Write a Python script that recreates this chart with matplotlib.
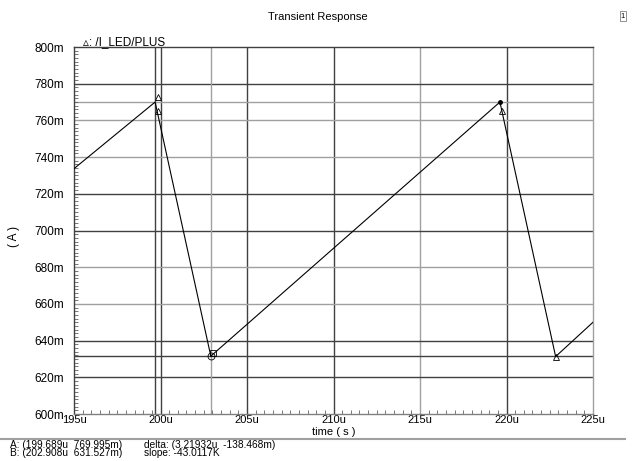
import matplotlib
matplotlib.use("Agg")
import matplotlib.pyplot as plt
from matplotlib.ticker import MultipleLocator, FuncFormatter

plt.rcParams["font.family"] = ["Liberation Sans", "DejaVu Sans"]

# ----------------
# Data (time in us, current in mA)
# ----------------
time_us = [195.0, 199.689, 202.908, 219.62, 222.84, 225.0]
i_led_ma = [733.7, 769.995, 631.527, 770.0, 631.3, 650.0]

# symbol markers drawn along the trace
tri_t = [199.87, 199.86, 219.75, 222.84]
tri_i = [772.8, 765.0, 765.0, 631.3]
dot_t = [219.62]
dot_i = [770.0]

# cursors A and B
cursor_t = [199.689, 202.908]
cursor_i = [769.995, 631.527]

x_grid = [200, 205, 210, 215, 220]
x_grid_col = ["#404040", "#404040", "#404040", "#a0a0a0", "#404040"]
y_grid = [780, 760, 740, 720, 700, 680, 660, 640, 620]
y_grid_col = ["#404040", "#a0a0a0", "#a0a0a0", "#404040", "#404040",
              "#a0a0a0", "#a0a0a0", "#404040", "#404040"]

cursor_text = ["A: (199.689u  769.995m)", "B: (202.908u  631.527m)"]
delta_text = ["delta: (3.21932u  -138.468m)", "slope: -43.0117K"]

# ----------------
# Figure
# ----------------
W, H = 633, 461
fig = plt.figure(figsize=(W / 100, H / 100), dpi=100)
ax = fig.add_axes([74 / W, 1 - 414 / H, (593 - 74) / W, (414 - 47) / H])

ax.set_xlim(195, 225)
ax.set_ylim(600, 800)

for x, c in zip(x_grid, x_grid_col):
    ax.axvline(x, color=c, lw=1, zorder=1)
for y, c in zip(y_grid, y_grid_col):
    ax.axhline(y, color=c, lw=1, zorder=1)

# cursor lines
ax.axvline(cursor_t[0], color="#404040", lw=1, zorder=1)
ax.axhline(cursor_i[0], color="#a0a0a0", lw=1, zorder=1)
ax.axvline(cursor_t[1], color="#a0a0a0", lw=1, zorder=1)
ax.axhline(cursor_i[1], color="#404040", lw=1, zorder=1)

ax.plot(time_us, i_led_ma, color="black", lw=0.8, zorder=3)
ax.plot(tri_t, tri_i, ls="none", marker="^", ms=4, mfc="none", mec="black",
        mew=0.6, zorder=4)
ax.plot(dot_t, dot_i, ls="none", marker="o", ms=2.5, color="black", zorder=4)
ax.plot([cursor_t[1]], [cursor_i[1]], ls="none", marker="o", ms=5, mfc="none",
        mec="black", mew=0.6, zorder=4)
ax.plot([cursor_t[1] + 0.12], [cursor_i[1] + 1.5], ls="none", marker="s", ms=4,
        mfc="none", mec="black", mew=0.6, zorder=4)

# spines
for side, c in [("left", "#404040"), ("top", "#404040"),
                ("right", "#a0a0a0"), ("bottom", "#808080")]:
    ax.spines[side].set_color(c)
    ax.spines[side].set_linewidth(1)

# ticks
ax.xaxis.set_major_locator(MultipleLocator(5))
ax.xaxis.set_minor_locator(MultipleLocator(0.5))
ax.yaxis.set_major_locator(MultipleLocator(20))
ax.yaxis.set_minor_locator(MultipleLocator(2))
ax.xaxis.set_major_formatter(FuncFormatter(lambda v, p: "%du" % round(v)))
ax.yaxis.set_major_formatter(FuncFormatter(lambda v, p: "%dm" % round(v)))
ax.tick_params(which="both", direction="in", color="#606060", width=0.6)
ax.tick_params(which="major", length=0, labelsize=8.5, pad=1)
ax.tick_params(axis="x", which="major", labelsize=8)
ax.tick_params(which="minor", length=3)
ax.tick_params(axis="y", which="major", pad=7)

ax.set_xlabel("time ( s )", fontsize=8)
ax.set_ylabel("( A )", fontsize=8.5)
ax.xaxis.set_label_coords((334 - 74) / 519, (414 - 427) / 367)
ax.yaxis.set_label_coords((20 - 74) / 519, 0.5 - 0.015)

# ----------------
# Texts
# ----------------
fig.text(318 / W, 1 - 17 / H, "Transient Response", ha="center", va="center",
         fontsize=8)
fig.text(623 / W, 1 - 16 / H, "1", ha="center", va="center", fontsize=5.5,
         bbox=dict(boxstyle="square,pad=0.15", fc="white", ec="#808080", lw=0.6))
fig.text(83 / W, 1 - 42 / H, "\u25b5: /I_LED/PLUS", ha="left", va="center",
         fontsize=8.5)

fig.add_artist(plt.Line2D([0, 625 / W], [1 - 439 / H, 1 - 439 / H],
                          color="#a0a0a0", lw=1.5))
fig.text(10 / W, 1 - 444.5 / H, cursor_text[0], ha="left", va="center", fontsize=7.3)
fig.text(10 / W, 1 - 453 / H, cursor_text[1], ha="left", va="center", fontsize=7.3)
fig.text(144 / W, 1 - 444.5 / H, delta_text[0], ha="left", va="center", fontsize=7.3)
fig.text(144 / W, 1 - 453 / H, delta_text[1], ha="left", va="center", fontsize=7.3)

fig.savefig("out.png", dpi=100)
